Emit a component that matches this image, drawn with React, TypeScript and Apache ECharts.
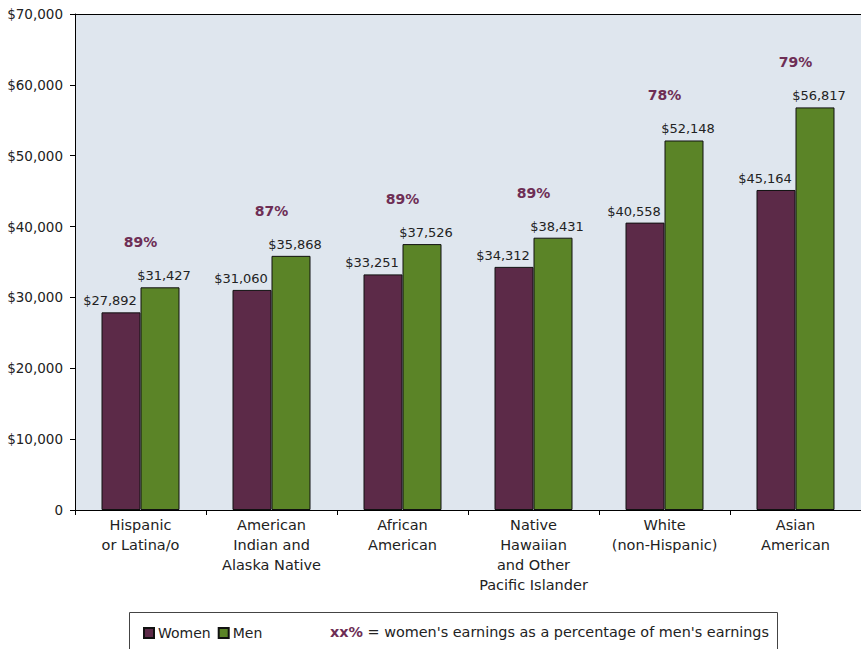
import React, { useEffect, useRef } from "react";
import * as echarts from "echarts";

const categories = [
  "Hispanic\nor Latina/o",
  "American\nIndian and\nAlaska Native",
  "African\nAmerican",
  "Native\nHawaiian\nand Other\nPacific Islander",
  "White\n(non-Hispanic)",
  "Asian\nAmerican",
];
const women = [27892, 31060, 33251, 34312, 40558, 45164];
const men = [31427, 35868, 37526, 38431, 52148, 56817];
const pctOfMen = [89, 87, 89, 89, 78, 79];
const yTicks = [0, 10000, 20000, 30000, 40000, 50000, 60000, 70000];

const FONT = "'DejaVu Sans', sans-serif";
const WOMEN_COLOR = "#5C2A48";
const MEN_COLOR = "#5B8427";
const PCT_COLOR = "#6E2E55";

const money = (v: number) => "$" + v.toLocaleString("en-US");

export default function App() {
  const ref = useRef<HTMLDivElement>(null);
  useEffect(() => {
    if (!ref.current) return;
    const chart = echarts.init(ref.current, null, { renderer: "svg" });
    chart.setOption({
      animation: false,
      backgroundColor: "#ffffff",
      textStyle: { fontFamily: FONT },
      grid: {
        left: 75,
        right: 0,
        top: 14,
        bottom: 139,
        show: true,
        backgroundColor: "#DFE6EE",
        borderWidth: 0,
      },
      legend: {
        left: 143,
        top: 626,
        padding: 0,
        itemWidth: 10,
        itemHeight: 10,
        itemGap: 7,
        icon: "rect",
        textStyle: { fontFamily: FONT, fontSize: 14, color: "#222", padding: [0, 0, 0, -1] },
        data: ["Women", "Men"],
      },
      xAxis: {
        type: "category",
        data: categories,
        axisLine: { lineStyle: { color: "#000", width: 1 } },
        axisTick: { show: true, length: 5, lineStyle: { color: "#000" } },
        axisLabel: {
          interval: 0,
          margin: 5,
          fontFamily: FONT,
          fontSize: 14.5,
          color: "#222",
          lineHeight: 20,
          align: "center",
        },
      },
      yAxis: {
        type: "value",
        min: yTicks[0],
        max: yTicks[yTicks.length - 1],
        interval: 10000,
        axisLine: { show: true, lineStyle: { color: "#000", width: 1 } },
        axisTick: { show: true, length: 5, lineStyle: { color: "#000" } },
        splitLine: { show: false },
        axisLabel: {
          margin: 12,
          fontFamily: FONT,
          fontSize: 13.5,
          color: "#222",
          formatter: (v: number) => (v === 0 ? "0" : money(v)),
        },
      },
      series: [
        {
          name: "Women",
          type: "bar",
          data: women,
          barWidth: 39,
          barGap: "0%",
          itemStyle: { color: WOMEN_COLOR, borderColor: "#111", borderWidth: 1 },
          label: {
            show: true,
            position: "top",
            distance: 5,
            offset: [-11, 0],
            fontFamily: FONT,
            fontSize: 13,
            color: "#222",
            formatter: (p: any) => money(p.value),
          },
        },
        {
          name: "Men",
          type: "bar",
          data: men,
          barWidth: 39,
          itemStyle: { color: MEN_COLOR, borderColor: "#111", borderWidth: 1 },
          label: {
            show: true,
            position: "top",
            distance: 5,
            offset: [4, 0],
            fontFamily: FONT,
            fontSize: 13,
            color: "#222",
            formatter: (p: any) => money(p.value),
          },
        },
        {
          name: "pct",
          type: "custom",
          data: men.map((m, i) => [i, m, pctOfMen[i]]),
          silent: true,
          renderItem: (params: any, api: any) => {
            const p = api.coord([api.value(0), api.value(1)]);
            return {
              type: "text",
              x: p[0],
              y: p[1] - 45,
              style: {
                text: api.value(2) + "%",
                fill: PCT_COLOR,
                fontFamily: FONT,
                fontSize: 14,
                fontWeight: "bold",
                align: "center",
                verticalAlign: "middle",
              },
            };
          },
        },
      ],
      graphic: [
        {
          type: "line",
          shape: { x1: 75, y1: 14.5, x2: 861, y2: 14.5 },
          style: { stroke: "#000", lineWidth: 1 },
          z: 10,
        },
        {
          type: "rect",
          shape: { x: 129.5, y: 612.5, width: 648, height: 50 },
          style: { fill: "#fff", stroke: "#444", lineWidth: 1 },
          z: 0,
        },
        {
          type: "text",
          x: 330,
          y: 632,
          style: {
            text: "{b|xx%}{n| = women's earnings as a percentage of men's earnings}",
            verticalAlign: "middle",
            rich: {
              b: { fontFamily: FONT, fontSize: 14.4, fontWeight: "bold", fill: PCT_COLOR, color: PCT_COLOR },
              n: { fontFamily: FONT, fontSize: 14.4, fill: "#222", color: "#222" },
            },
          },
          z: 5,
        },
      ],
    });
    return () => chart.dispose();
  }, []);
  return (
    <div
      ref={ref}
      style={{ position: "fixed", left: 0, top: 0, width: 861, height: 649 }}
    />
  );
}
